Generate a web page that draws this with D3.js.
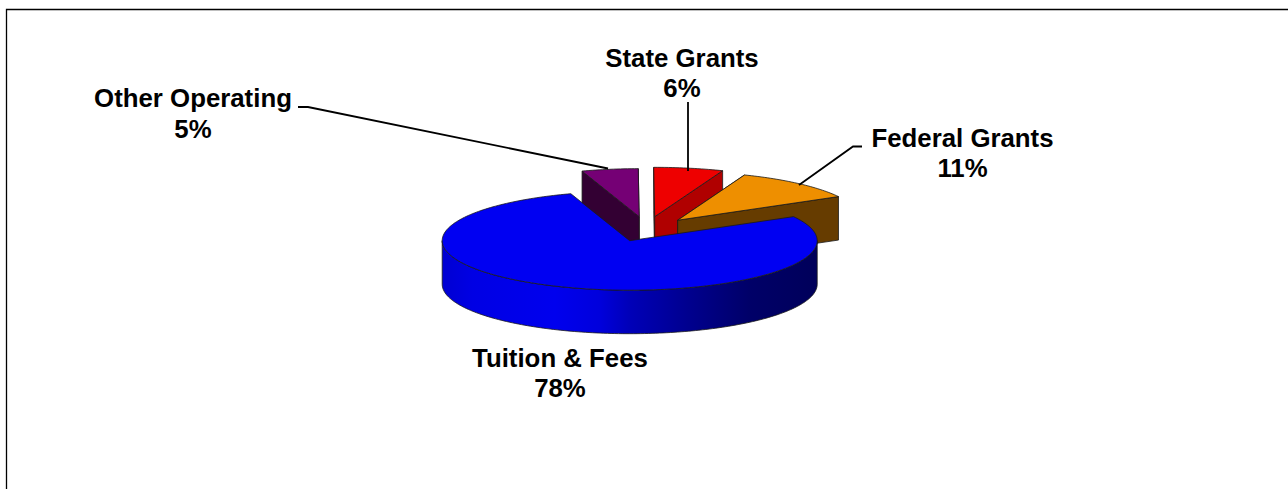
<!DOCTYPE html>
<html>
<head>
<meta charset="utf-8">
<script src="https://cdnjs.cloudflare.com/ajax/libs/d3/7.8.5/d3.min.js"></script>
<style>
html,body{margin:0;padding:0;background:#fff;}
svg{display:block;}
text{font-family:"Liberation Sans",Arial,sans-serif;font-weight:700;font-size:25.8px;fill:#000;}
</style>
</head>
<body>
<svg id="chart" width="1288" height="489"></svg>
<script>
// Revenue shares, clockwise from the largest wedge
const categories = ["Tuition & Fees", "Other Operating", "State Grants", "Federal Grants"];
const shares = [78, 5, 6, 11];
const topColors = ["#0000f2", "#750075", "#ee0000", "#ee8f00"];
const wallColors = ["#0000c0", "#330033", "#b00000", "#663c00"];

// Pulled-out wedges sit away from the pie centre by these offsets (px)
const explodeX = [0, 9.5, 25, 48];
const explodeY = [0, -24, -24, -20.5];
const radii = [187.5, 182, 187, 184];

// Label placement: centre x, first baseline; leader polyline
const labelX = [560, 193, 682, 962.5];
const labelY = [367, 107.3, 67, 146.5];
const leaders = [
  null,
  [[298, 107], [308, 107], [608, 168.5]],
  [[688, 102], [688, 171]],
  [[862, 146.5], [853, 146.5], [799, 185]]
];

const width = 1288, height = 489;
const cx = 629.7, cy = 240.7, tilt = 0.264, depth = 43.5;
const startDeg = 60.9;

const svg = d3.select("#chart");
const defs = svg.append("defs");

// Horizontal shading along the front rim
const rimStops = [
  [0, "#0000d2"], [0.08, "#0000e4"], [0.3, "#0000ee"], [0.42, "#0000dc"],
  [0.5, "#0000b8"], [0.65, "#000090"], [0.82, "#000068"], [1, "#00005a"]
];
defs.append("linearGradient")
  .attr("id", "rim")
  .attr("gradientUnits", "userSpaceOnUse")
  .attr("x1", cx - radii[0]).attr("x2", cx + radii[0])
  .attr("y1", 0).attr("y2", 0)
  .selectAll("stop").data(rimStops).join("stop")
  .attr("offset", d => d[0]).attr("stop-color", d => d[1]);

// Frame: top and left rules only
svg.append("path")
  .attr("d", d3.line()([[6.5, height], [6.5, 9.5], [width, 9.5]]))
  .attr("fill", "none").attr("stroke", "#000").attr("stroke-width", 1.3);

const pie = d3.pie().sort(null)
  .startAngle(startDeg * Math.PI / 180)
  .endAngle((startDeg + 360) * Math.PI / 180);
const arcs = pie(shares).map((d, i) => ({...d, i}));

const project = (d, a, r, drop = 0) => [
  cx + explodeX[d.i] + r * Math.sin(a),
  cy + explodeY[d.i] - r * Math.cos(a) * tilt + drop
];
const samples = (a0, a1) => {
  const n = Math.max(2, Math.ceil(Math.abs(a1 - a0) / 0.02));
  return d3.range(n + 1).map(k => a0 + (a1 - a0) * k / n);
};
const line = d3.line();
const edgeStyle = sel => sel
  .attr("stroke", "#1a1a1a").attr("stroke-width", 0.8).attr("stroke-linejoin", "round");

function drawWedge(d) {
  const r = radii[d.i];
  const g = svg.append("g").attr("class", "wedge");
  const apex = project(d, 0, 0);

  if (d.i === 0) {
    // Visible part of the outer rim faces the viewer between 90° and 270°
    const front = samples(Math.PI / 2, 3 * Math.PI / 2);
    const upper = front.map(a => project(d, a, r));
    const lower = front.map(a => project(d, a, r, depth)).reverse();
    g.append("path").attr("d", line(upper.concat(lower)) + "Z")
      .attr("fill", "url(#rim)").call(edgeStyle);
  } else {
    // Cut faces, the one reaching furthest back goes first
    const walls = [d.startAngle, d.endAngle]
      .map(a => ({a, corner: project(d, a, r)}))
      .sort((p, q) => p.corner[1] - q.corner[1]);
    walls.forEach(w => {
      const pts = [apex, w.corner, project(d, w.a, r, depth), project(d, 0, 0, depth)];
      g.append("path").attr("d", line(pts) + "Z")
        .attr("fill", wallColors[d.i]).call(edgeStyle);
    });
  }

  const rimPts = samples(d.startAngle, d.endAngle).map(a => project(d, a, r));
  g.append("path").attr("d", line([apex, ...rimPts]) + "Z")
    .attr("fill", topColors[d.i]).call(edgeStyle);
}

// Back wedges first, the large wedge overlaps them
[1, 2, 3, 0].forEach(i => drawWedge(arcs[i]));

// Leader lines
svg.append("g").selectAll("path")
  .data(leaders.filter(Boolean)).join("path")
  .attr("d", d => line(d))
  .attr("fill", "none").attr("stroke", "#000").attr("stroke-width", 1.8);

// Two-line labels: name and share
const labels = svg.append("g").selectAll("text")
  .data(categories).join("text")
  .attr("text-anchor", "middle")
  .attr("x", (d, i) => labelX[i])
  .attr("y", (d, i) => labelY[i]);
labels.append("tspan").text(d => d);
labels.append("tspan")
  .attr("x", (d, i) => labelX[i]).attr("dy", 30.3)
  .text((d, i) => shares[i] + "%");
</script>
</body>
</html>
